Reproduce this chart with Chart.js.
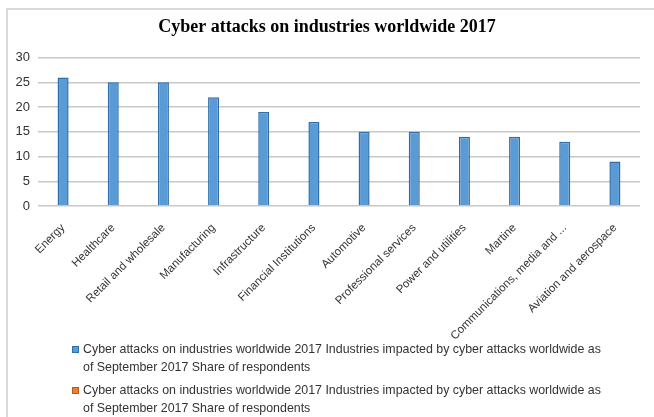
<!DOCTYPE html>
<html>
<head>
<meta charset="utf-8">
<script src="https://cdn.jsdelivr.net/npm/chart.js@4"></script>
<style>
  body { margin: 0; background: #fff; }
  #wrap { position: relative; width: 654px; height: 417px; overflow: hidden; }
  #frame { position: absolute; left: 6px; top: 8px; right: -2px; bottom: -2px;
           border-left: 2px solid #d9d9d9; border-top: 2px solid #d9d9d9; }
  #chart { position: absolute; left: 0; top: 0; }
  #legend { position: absolute; left: 72px; top: 340px; width: 541px;
            font-family: "Liberation Sans", Arial, sans-serif; font-size: 12.4px; color: #333; }
  .item { position: relative; padding-left: 11px; line-height: 18px; margin-bottom: 5px; }
  .sw { position: absolute; left: 0; top: 6px; width: 5px; height: 5px; border: 1px solid; }
</style>
</head>
<body>
<div id="wrap">
  <div id="frame"></div>
  <canvas id="chart" width="654" height="417"></canvas>
  <div id="legend"></div>
</div>
<script>
let categories = ["Energy", "Healthcare", "Retail and wholesale", "Manufacturing", "Infrastructure",
    "Financial Institutions", "Automotive", "Professional services", "Power and utilities",
    "Martine", "Communications, media and ...", "Aviation and aerospace"];
let shareValues = [26, 25, 25, 22, 19, 17, 15, 15, 14, 14, 13, 9];
let emptyValues = [null, null, null, null, null, null, null, null, null, null, null, null];
let yTicks = [0, 5, 10, 15, 20, 25, 30];
let seriesName = "Cyber attacks on industries worldwide 2017 Industries impacted by cyber attacks worldwide as of September 2017 Share of respondents";

let chart = new Chart(document.getElementById("chart"), {
    type: 'bar',
    data: {
        labels: categories,
        datasets: [{
            label: seriesName,
            data: shareValues,
            backgroundColor: "#5b9bd5",
            borderColor: "#2f6eab",
            borderWidth: 1.5,
            grouped: false
        }, {
            label: seriesName,
            data: emptyValues,
            backgroundColor: "#ed7d31",
            borderColor: "#b85a1c",
            borderWidth: 1.5,
            grouped: false
        }]
    },
    options: {
        responsive: false,
        animation: false,
        barPercentage: 0.22,
        categoryPercentage: 1,
        layout: { padding: { left: 14, right: 14, bottom: 0 } },
        plugins: {
            legend: { display: false },
            tooltip: { enabled: false },
            title: {
                display: true,
                text: "Cyber attacks on industries worldwide 2017",
                color: "#000",
                font: { family: "Liberation Serif", size: 18, weight: "bold" },
                padding: { top: 17, bottom: 19 }
            }
        },
        scales: {
            y: {
                min: 0, max: 30,
                afterFit: s => { s.width = 24; },
                afterBuildTicks: s => { s.ticks = yTicks.map(v => ({ value: v })); },
                border: { display: false },
                grid: { color: "#c8c8c8", lineWidth: 1.5, drawTicks: false },
                ticks: { color: "#333", padding: 8, font: { family: "Liberation Sans", size: 13 } }
            },
            x: {
                afterFit: s => { s.height = 211; },
                border: { display: false },
                grid: { display: false },
                ticks: {
                    color: "#333", minRotation: 45, maxRotation: 45, autoSkip: false, padding: 7,
                    font: { family: "Liberation Sans", size: 11.5 }
                }
            }
        }
    }
});

// html legend, text wraps like the original
let legendBox = document.getElementById("legend");
chart.data.datasets.forEach(ds => {
    let item = document.createElement("div");
    item.className = "item";
    let sw = document.createElement("span");
    sw.className = "sw";
    sw.style.background = ds.backgroundColor;
    sw.style.borderColor = ds.borderColor;
    item.appendChild(sw);
    item.appendChild(document.createTextNode(ds.label));
    legendBox.appendChild(item);
});
</script>
</body>
</html>
